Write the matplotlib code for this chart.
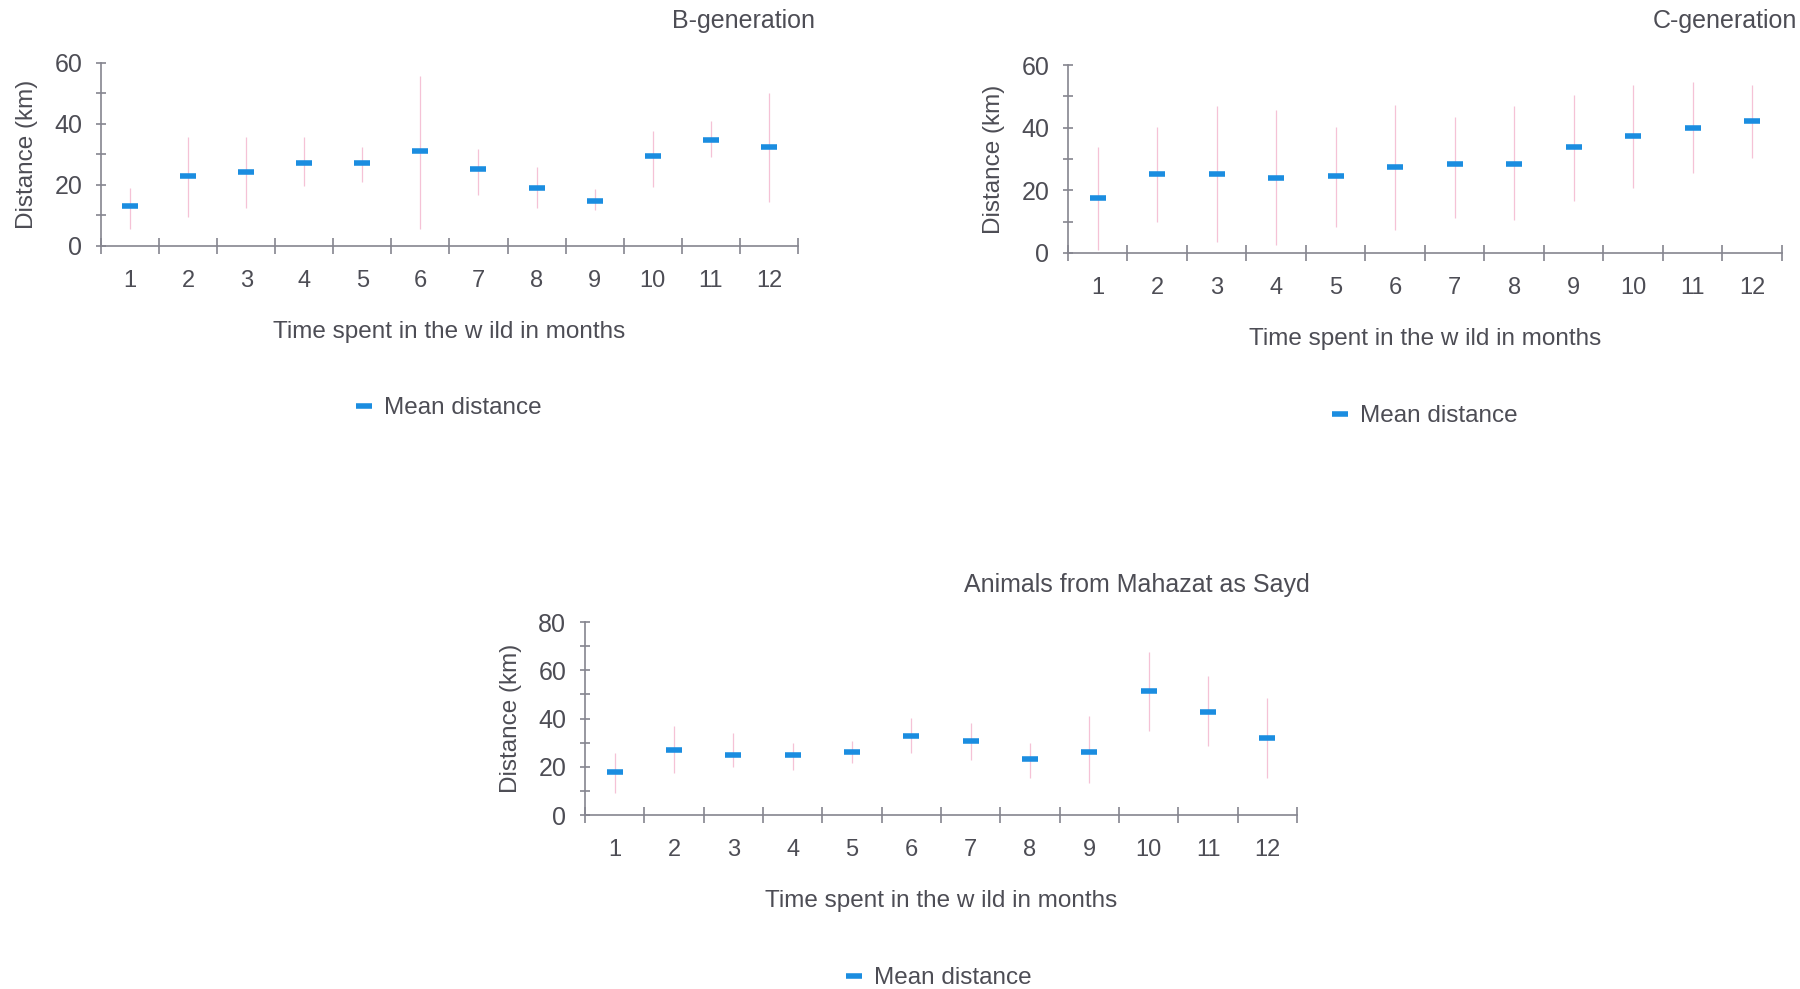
import numpy as np
import matplotlib.pyplot as plt
from matplotlib.lines import Line2D

months = np.arange(1, 13)

# B-generation
b_mean = [13.1, 22.9, 24.4, 27.3, 27.3, 31.0, 25.1, 19.1, 14.6, 29.6, 34.8, 32.5]
b_low = [5.7, 9.5, 12.3, 19.8, 20.9, 5.7, 16.6, 12.3, 11.7, 19.3, 29.1, 14.4]
b_high = [19.1, 35.6, 35.6, 35.6, 32.5, 55.6, 31.8, 25.8, 18.8, 37.7, 41.0, 50.2]

# C-generation
c_mean = [17.6, 25.3, 25.3, 23.8, 24.5, 27.6, 28.3, 28.3, 33.7, 37.5, 39.8, 42.2]
c_low = [0.9, 10.0, 3.5, 2.5, 8.4, 7.3, 11.1, 10.5, 16.5, 20.8, 25.6, 30.4]
c_high = [33.7, 40.1, 46.9, 45.5, 40.1, 47.1, 43.3, 46.9, 50.3, 53.5, 54.6, 53.5]

# Animals from Mahazat as Sayd
m_mean = [18.0, 26.9, 25.0, 25.0, 26.0, 32.8, 30.8, 23.1, 26.0, 51.4, 42.6, 31.9]
m_low = [9.0, 17.4, 20.1, 18.8, 21.5, 25.7, 22.9, 15.3, 13.2, 34.7, 28.5, 15.3]
m_high = [25.7, 36.8, 34.0, 29.9, 30.6, 40.3, 38.2, 29.9, 41.0, 67.4, 57.6, 48.6]

TXT = '#4d4d55'
AX = '#85858f'
BLUE = '#1b8de0'
PINK = '#f5c2d6'

plt.rcParams['font.family'] = ['Liberation Sans', 'DejaVu Sans']

fig = plt.figure(figsize=(18, 9.89), dpi=100)


def panel(rect, mean, low, high, ymax, title, title_xy, title_ha, legend_xy):
    ax = fig.add_axes(rect)
    ax.vlines(months, low, high, color=PINK, lw=0.9, zorder=1)
    ax.plot(months, mean, ls='none', marker='_', ms=12, mew=4, color=BLUE, zorder=2)
    ax.set_xlim(0.5, 12.5)
    ax.set_ylim(0, ymax)
    for s in ['top', 'right']:
        ax.spines[s].set_visible(False)
    for s in ['left', 'bottom']:
        ax.spines[s].set_color(AX)
        ax.spines[s].set_linewidth(1.2)
    ax.spines['left'].set_bounds(0, ymax)
    ax.set_xticks(months)
    ax.set_xticks(np.arange(0.5, 13, 1), minor=True)
    ax.set_yticks(np.arange(0, ymax + 1, 20))
    ax.set_yticks(np.arange(10, ymax, 20), minor=True)
    ax.tick_params(axis='x', which='major', length=0, pad=17, labelsize=17, labelcolor=TXT)
    ax.tick_params(axis='x', which='minor', direction='inout', length=12, width=1.2, color=AX)
    ax.tick_params(axis='y', which='both', direction='inout', length=7, width=1.2, color=AX)
    ax.tick_params(axis='y', which='major', pad=10, labelsize=18, labelcolor=TXT)
    ax.set_xlabel('Time spent in the w ild in months', fontsize=17.5, color=TXT, labelpad=21)
    ax.set_ylabel('Distance (km)', fontsize=17.5, color=TXT, labelpad=12)
    fig.text(title_xy[0] / 1800, 1 - title_xy[1] / 989, title, fontsize=18, color=TXT,
             ha=title_ha, va='center')
    handle = Line2D([], [], ls='none', marker='_', ms=12, mew=4, color=BLUE)
    fig.legend([handle], ['Mean distance'], loc='center',
               bbox_to_anchor=(legend_xy[0] / 1800, 1 - legend_xy[1] / 989),
               frameon=False, fontsize=17.5, labelcolor=TXT, handlelength=0.8,
               handletextpad=0.4)
    return ax


panel([0.0561, 0.7513, 0.3872, 0.185], b_mean, b_low, b_high, 60,
      'B-generation', (743, 21), 'center', (448, 408))
panel([0.5933, 0.7442, 0.3967, 0.190], c_mean, c_low, c_high, 60,
      'C-generation', (1797, 21), 'right', (1424, 416))
panel([0.325, 0.1759, 0.3956, 0.1951], m_mean, m_low, m_high, 80,
      'Animals from Mahazat as Sayd', (1137, 585), 'center', (938, 978))

fig.savefig('out.png', dpi=100)
